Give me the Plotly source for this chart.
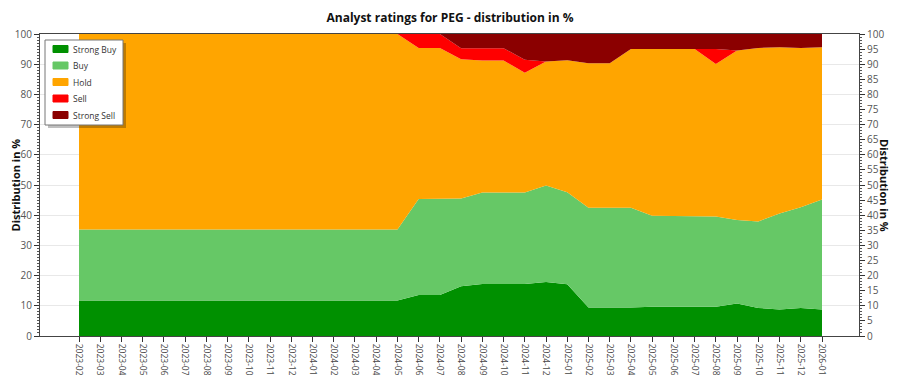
import plotly.graph_objects as go

months = ["2023-02","2023-03","2023-04","2023-05","2023-06","2023-07","2023-08","2023-09",
          "2023-10","2023-11","2023-12","2024-01","2024-02","2024-03","2024-04","2024-05",
          "2024-06","2024-07","2024-08","2024-09","2024-10","2024-11","2024-12","2025-01",
          "2025-02","2025-03","2025-04","2025-05","2025-06","2025-07","2025-08","2025-09",
          "2025-10","2025-11","2025-12","2026-01"]

strong_buy = [11.76]*16 + [13.6, 13.6, 16.5, 17.2, 17.2, 17.2, 17.9, 17.1,
                           9.4, 9.4, 9.4, 9.7, 9.7, 9.7, 9.7, 10.8, 9.3, 8.8, 9.3, 8.8]
buy = [23.53]*16 + [31.8, 31.8, 29.0, 30.3, 30.3, 30.3, 31.9, 30.5,
                    33.1, 33.1, 33.1, 30.1, 30.1, 30.1, 29.9, 27.6, 28.6, 31.8, 33.3, 36.4]
hold = [64.71]*16 + [50.0, 50.0, 46.1, 43.7, 43.7, 39.7, 41.1, 43.7,
                     47.8, 47.8, 52.5, 55.2, 55.2, 55.2, 50.5, 56.1, 57.5, 55.0, 52.8, 50.4]
sell = [0]*16 + [4.6, 4.6, 3.7, 4.1, 4.1, 4.3, 0, 0,
                 0, 0, 0, 0, 0, 0, 4.9, 0, 0, 0, 0, 0]
strong_sell = [0]*16 + [0, 0, 4.7, 4.7, 4.7, 8.5, 9.1, 8.7,
                        9.7, 9.7, 5.0, 5.0, 5.0, 5.0, 5.0, 5.5, 4.6, 4.4, 4.6, 4.4]

series = [("Strong Buy", strong_buy, "#009000"),
          ("Buy", buy, "#66c866"),
          ("Hold", hold, "#ffa500"),
          ("Sell", sell, "#ff0000"),
          ("Strong Sell", strong_sell, "#8b0000")]

W, H = 884, 367
ML, MR, MT, MB = 32, 33, 26, 39
PW, PH = W - ML - MR, H - MT - MB

def px(fx):
    return (fx - ML) / PW

def py(fy):
    return (H - MB - fy) / PH

xs = list(range(len(months)))
fig = go.Figure()
for name, vals, col in series:
    fig.add_trace(go.Scatter(x=xs, y=vals, name=name, stackgroup="one", mode="lines",
                             line=dict(width=0, color=col), fillcolor=col, showlegend=False))
# invisible trace to show right axis
fig.add_trace(go.Scatter(x=[xs[0]], y=[0], yaxis="y2", mode="markers",
                         marker=dict(opacity=0), showlegend=False, hoverinfo="skip"))

# custom legend box
shapes = [
    dict(type="rect", xref="paper", yref="paper", x0=px(40), x1=px(118), y0=py(35), y1=py(120),
         fillcolor="rgba(0,0,0,0.25)", line=dict(width=0), layer="above"),
    dict(type="rect", xref="paper", yref="paper", x0=px(37), x1=px(115), y0=py(32), y1=py(117),
         fillcolor="white", line=dict(color="#777", width=1), layer="above"),
]
annotations = []
for i, (name, vals, col) in enumerate(series):
    cy = 41 + 16.5 * i
    shapes.append(dict(type="rect", xref="paper", yref="paper", x0=px(45), x1=px(60),
                       y0=py(cy + 3.5), y1=py(cy - 3.5), fillcolor=col,
                       line=dict(color=col, width=1), layer="above"))
    annotations.append(dict(text=name, xref="paper", yref="paper", x=px(63), y=py(cy),
                            xanchor="left", yanchor="middle", showarrow=False,
                            font=dict(size=8.5, color="#333")))

annotations += [
    dict(text="<b>Distribution in %</b>", xref="paper", yref="paper", x=px(6.5), y=0.5,
         textangle=-90, showarrow=False, font=dict(size=11, color="#111"),
         xanchor="center", yanchor="middle"),
    dict(text="<b>Distribution in %</b>", xref="paper", yref="paper", x=px(877), y=0.5,
         textangle=90, showarrow=False, font=dict(size=11, color="#111"),
         xanchor="center", yanchor="middle"),
]

font = "Open Sans, Noto Sans, sans-serif"
fig.update_layout(
    width=W, height=H,
    margin=dict(l=ML, r=MR, t=MT, b=MB, autoexpand=False),
    paper_bgcolor="white", plot_bgcolor="white",
    font=dict(family=font, size=10, color="#333"),
    title=dict(text="<b>Analyst ratings for PEG - distribution in %</b>", x=0.5, xanchor="center",
               y=1 - 9.5 / H, yanchor="middle", font=dict(size=12, color="#111")),
    xaxis=dict(range=[-1.837, 36.743], tickvals=xs, ticktext=months, tickangle=90,
               ticks="outside", ticklen=5, tickcolor="#333", showgrid=False,
               showline=True, linecolor="#444", linewidth=1, mirror=True,
               tickfont=dict(size=8.5, color="#444"), automargin=False, zeroline=False),
    yaxis=dict(range=[0, 100], dtick=10, ticks="outside", ticklen=5, tickcolor="#333",
               showline=True, linecolor="#444", gridcolor="#e8e8e8", zeroline=False,
               minor=dict(dtick=1, ticks="outside", ticklen=2, tickcolor="#555"),
               tickfont=dict(size=10, color="#555"), automargin=False),
    yaxis2=dict(range=[0, 100], dtick=5, overlaying="y", side="right", ticks="outside",
                ticklen=5, tickcolor="#333", showline=True, linecolor="#444", showgrid=False,
                zeroline=False, minor=dict(dtick=1, ticks="outside", ticklen=2, tickcolor="#555"),
                tickfont=dict(size=10, color="#555"), automargin=False),
    showlegend=False,
    shapes=shapes,
    annotations=annotations,
)
fig.write_html("out.html")
